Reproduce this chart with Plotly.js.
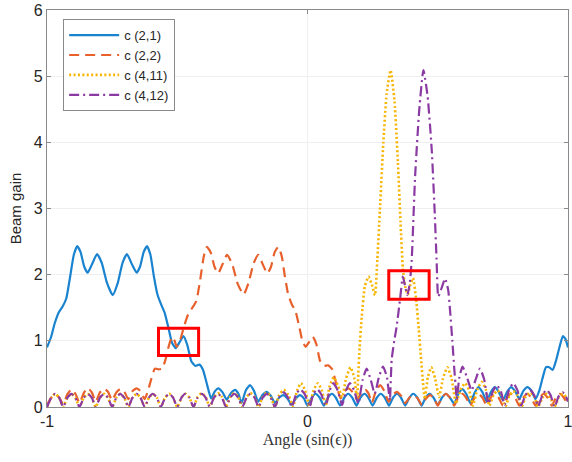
<!DOCTYPE html>
<html>
<head>
<meta charset="utf-8">
<script src="https://cdn.plot.ly/plotly-3.0.1.min.js"></script>
<style>html,body{margin:0;padding:0;background:#fff;}#chart{width:572px;height:462px;}</style>
</head>
<body>
<div id="chart"></div>
<script>
// ---- series names ----
const seriesNames = ['c (2,1)', 'c (2,2)', 'c (4,11)', 'c (4,12)'];

// ---- c(2,1) ----
const angle_c21 = [
 -1.000,-0.985,-0.970,-0.955,-0.940,-0.926,-0.912,-0.897,-0.884,-0.871,-0.857,-0.844,-0.828,-0.808,-0.790,-0.770,-0.748,-0.728,-0.710,-0.693,-0.673,-0.656,-0.643,-0.629,-0.616,-0.603,-0.590,-0.576,-0.562,-0.548,-0.534,-0.520,-0.506,-0.491,-0.476,-0.461,-0.446,-0.430,-0.415,-0.401,-0.387,-0.370,
 -0.355,-0.342,-0.326,-0.310,-0.294,-0.278,-0.265,-0.253,-0.237,-0.221,-0.205,-0.189,-0.173,-0.157,-0.141,-0.125,-0.109,-0.093,-0.077,-0.061,-0.045,-0.029,-0.014,
 0.000,0.016,0.031,0.047,0.063,0.078,0.094,0.109,0.125,0.141,0.156,0.172,0.188,0.203,0.219,0.234,0.250,0.266,0.281,0.297,0.313,0.328,0.344,0.359,0.375,0.391,0.406,0.422,0.438,0.453,0.469,0.484,
 0.500,0.516,0.531,0.547,0.563,0.578,0.594,0.609,0.625,0.641,0.656,0.672,0.688,0.703,0.719,0.734,0.750,0.766,0.781,0.797,0.813,0.828,0.844,0.859,0.875,
 0.890,0.902,0.915,0.928,0.941,0.954,0.967,0.980,0.990,1.000];
const gain_c21 = [
 0.90,1.05,1.27,1.43,1.52,1.64,1.95,2.30,2.43,2.34,2.12,2.03,2.15,2.31,2.18,1.88,1.69,1.88,2.18,2.31,2.15,2.03,2.12,2.34,2.43,2.30,1.98,1.70,1.55,1.42,1.20,0.97,0.89,0.98,1.07,0.93,0.69,0.62,0.64,0.56,0.36,0.13,
 0.24,0.28,0.22,0.11,0.21,0.26,0.20,0.06,0.25,0.33,0.24,0.08,0.18,0.23,0.17,0.06,0.14,0.18,0.13,0.03,0.13,0.18,0.13,
 0.02,0.14,0.20,0.14,0.02,0.14,0.20,0.14,0.02,0.14,0.20,0.14,0.02,0.14,0.20,0.14,0.02,0.14,0.20,0.14,0.02,0.14,0.20,0.14,0.02,0.14,0.20,0.14,0.02,0.14,0.20,0.14,
 0.03,0.14,0.20,0.14,0.05,0.19,0.27,0.20,0.06,0.21,0.30,0.22,0.08,0.22,0.30,0.23,0.10,0.23,0.30,0.24,0.12,0.24,0.30,0.25,0.12,
 0.25,0.43,0.60,0.60,0.56,0.70,0.90,1.07,1.03,0.90];

// ---- c(2,2) ----
const angle_c22 = [
 -1.000,-0.984,-0.969,-0.953,-0.938,-0.922,-0.906,-0.891,-0.875,-0.859,-0.844,-0.828,-0.813,-0.797,-0.781,-0.766,-0.750,-0.734,-0.719,-0.703,-0.688,-0.672,-0.656,-0.641,-0.625,
 -0.612,-0.600,-0.586,-0.572,-0.558,-0.545,-0.532,-0.520,-0.510,-0.502,-0.488,-0.474,-0.458,-0.442,-0.427,-0.412,-0.398,-0.386,-0.372,-0.357,-0.343,-0.327,-0.309,-0.290,-0.268,-0.245,-0.226,-0.207,-0.189,-0.171,-0.154,-0.140,-0.126,-0.112,-0.099,-0.087,-0.074,-0.060,-0.046,-0.032,-0.019,-0.007,0.006,0.020,0.034,0.048,0.063,0.079,0.095,0.110,0.127,
 0.142,0.158,0.174,0.190,0.206,0.222,0.235,0.247,0.263,0.279,0.295,0.311,0.327,0.343,0.359,0.375,0.391,0.407,0.423,0.439,0.455,0.471,0.486,
 0.500,0.516,0.531,0.547,0.563,0.578,0.594,0.609,0.625,0.641,0.656,0.672,0.688,0.703,0.719,0.734,0.750,0.766,0.781,0.797,0.813,0.828,0.844,0.859,0.875,0.891,0.906,0.922,0.938,0.953,0.969,0.984,1.000];
const gain_c22 = [
 0.03,0.14,0.20,0.14,0.05,0.19,0.27,0.20,0.06,0.21,0.29,0.22,0.08,0.22,0.28,0.23,0.10,0.22,0.27,0.23,0.12,0.24,0.28,0.24,0.12,
 0.25,0.42,0.58,0.57,0.58,0.72,0.93,1.06,1.00,0.91,1.02,1.22,1.40,1.50,1.60,1.92,2.28,2.42,2.34,2.12,2.02,2.15,2.30,2.17,1.86,1.70,1.88,2.17,2.30,2.15,2.02,2.12,2.34,2.42,2.28,1.98,1.70,1.55,1.45,1.22,0.99,0.91,0.98,1.06,0.95,0.70,0.62,0.63,0.57,0.35,0.13,
 0.24,0.28,0.22,0.11,0.21,0.26,0.20,0.06,0.25,0.33,0.24,0.08,0.18,0.23,0.17,0.06,0.14,0.18,0.13,0.03,0.13,0.18,0.13,
 0.02,0.14,0.20,0.14,0.02,0.14,0.20,0.14,0.02,0.14,0.20,0.14,0.02,0.14,0.20,0.14,0.02,0.14,0.20,0.14,0.02,0.14,0.20,0.14,0.02,0.14,0.20,0.14,0.02,0.14,0.20,0.14,0.03];

// ---- c(4,11) ----
const angle_c411 = [
 -1.000,-0.984,-0.969,-0.953,-0.938,-0.922,-0.906,-0.891,-0.875,-0.859,-0.844,-0.828,-0.813,-0.797,-0.781,-0.766,-0.750,-0.734,-0.719,-0.703,-0.688,-0.672,-0.656,-0.641,-0.625,-0.609,-0.594,-0.578,-0.563,-0.547,-0.531,-0.516,-0.500,-0.484,-0.469,-0.453,-0.438,-0.422,-0.406,-0.391,-0.375,-0.359,-0.344,-0.328,-0.313,-0.297,-0.281,-0.266,-0.250,-0.234,-0.219,-0.203,
 -0.188,-0.172,-0.156,-0.141,-0.125,-0.109,-0.091,-0.073,-0.055,-0.040,-0.025,-0.009,0.008,0.023,0.040,0.055,0.070,0.085,0.101,0.117,0.133,0.148,0.165,0.180,0.190,
 0.195,0.200,0.208,0.220,0.234,0.247,0.259,0.268,0.278,0.291,0.304,0.319,0.334,0.347,0.357,0.366,0.375,0.385,0.395,0.405,0.417,0.427,0.436,0.443,0.450,
 0.462,0.475,0.490,0.505,0.520,0.537,0.553,0.570,0.587,0.605,0.620,0.635,0.652,0.669,0.684,0.698,0.714,0.730,0.745,0.760,0.775,0.790,0.806,0.823,0.838,0.855,0.870,0.885,0.902,0.918,0.933,0.948,0.964,0.980,0.992,1.000];
const gain_c411 = [
 0.00,0.14,0.20,0.14,0.00,0.14,0.20,0.14,0.00,0.14,0.20,0.14,0.00,0.14,0.20,0.14,0.00,0.14,0.20,0.14,0.00,0.14,0.20,0.14,0.00,0.14,0.20,0.14,0.00,0.14,0.20,0.14,0.00,0.14,0.20,0.14,0.00,0.15,0.21,0.15,0.00,0.15,0.21,0.15,0.00,0.15,0.21,0.15,0.00,0.15,0.21,0.15,
 0.00,0.15,0.22,0.15,0.00,0.18,0.26,0.18,0.01,0.25,0.36,0.25,0.01,0.25,0.36,0.25,0.02,0.32,0.45,0.32,0.15,0.43,0.60,0.43,0.12,
 0.50,0.90,1.35,1.82,1.97,1.85,1.69,2.22,2.98,3.99,4.74,5.09,4.62,3.70,2.80,2.10,1.82,1.70,1.85,1.95,1.62,1.18,0.72,0.38,0.12,
 0.45,0.60,0.43,0.15,0.43,0.60,0.43,0.05,0.26,0.36,0.26,0.02,0.27,0.38,0.27,0.02,0.18,0.25,0.18,0.01,0.17,0.24,0.17,0.01,0.16,0.22,0.16,0.00,0.14,0.20,0.14,0.00,0.14,0.20,0.15,0.08];

// ---- c(4,12) ----
const angle_c412 = [
 -1.000,-0.984,-0.969,-0.953,-0.938,-0.922,-0.906,-0.891,-0.875,-0.859,-0.844,-0.828,-0.813,-0.797,-0.781,-0.766,-0.750,-0.734,-0.719,-0.703,-0.688,-0.672,-0.656,-0.641,-0.625,-0.609,-0.594,-0.578,-0.563,-0.547,-0.531,-0.516,-0.500,-0.484,-0.469,-0.453,-0.438,-0.422,-0.406,-0.391,-0.375,-0.359,-0.344,-0.328,-0.313,-0.297,-0.281,-0.266,-0.250,-0.234,-0.219,-0.203,-0.188,-0.172,-0.156,-0.141,
 -0.125,-0.109,-0.092,-0.076,-0.060,-0.044,-0.028,-0.010,0.008,0.022,0.037,0.053,0.070,0.085,0.099,0.116,0.133,0.148,0.163,0.179,0.195,0.211,0.227,0.243,0.258,0.274,0.290,0.305,0.316,
 0.323,0.333,0.342,0.355,0.366,0.375,0.383,0.392,0.400,0.413,0.429,0.445,0.461,0.477,0.489,0.496,0.502,0.515,0.528,0.540,0.547,0.556,0.563,0.568,0.573,
 0.583,0.595,0.612,0.630,0.646,0.662,0.678,0.695,0.711,0.726,0.742,0.757,0.773,0.790,0.806,0.820,0.837,0.854,0.870,0.885,0.902,0.918,0.933,0.948,0.964,0.980,0.992,1.000];
const gain_c412 = [
 0.00,0.14,0.20,0.14,0.00,0.14,0.20,0.14,0.00,0.14,0.20,0.14,0.00,0.14,0.20,0.14,0.00,0.14,0.20,0.14,0.00,0.14,0.20,0.14,0.00,0.14,0.20,0.14,0.00,0.14,0.20,0.14,0.00,0.14,0.20,0.14,0.00,0.14,0.20,0.14,0.00,0.14,0.20,0.14,0.00,0.14,0.20,0.14,0.00,0.14,0.20,0.14,0.00,0.14,0.20,0.14,
 0.00,0.15,0.22,0.15,0.00,0.19,0.27,0.19,0.00,0.19,0.27,0.19,0.02,0.25,0.36,0.25,0.03,0.25,0.36,0.25,0.05,0.40,0.58,0.41,0.20,0.45,0.61,0.45,0.10,
 0.71,1.00,1.21,1.62,1.97,1.82,1.69,1.85,2.22,3.48,4.49,5.09,4.70,3.88,2.88,2.17,1.67,1.80,1.94,1.77,1.47,1.00,0.60,0.35,0.12,
 0.45,0.61,0.45,0.25,0.42,0.58,0.42,0.05,0.23,0.33,0.24,0.03,0.25,0.36,0.25,0.02,0.18,0.26,0.18,0.01,0.18,0.26,0.18,0.00,0.16,0.22,0.16,0.08];

// ---- highlight boxes (data coords) ----
const boxX0 = [-0.572, 0.312];
const boxX1 = [-0.418, 0.467];
const boxY0 = [0.78, 1.63];
const boxY1 = [1.19, 2.06];

const xTicks = [-1, 0, 1];
const yTicks = [0, 1, 2, 3, 4, 5, 6];

const colors = ['#1a83d0', '#e8612c', '#f7b400', '#8b3aa3'];
const dashes = ['solid', '10px,6px', '2px,2.4px', '10px,4px,2px,4px'];
const widths = [2.2, 2.2, 2.6, 2.2];
const xs = [angle_c21, angle_c22, angle_c411, angle_c412];
const ys = [gain_c21, gain_c22, gain_c411, gain_c412];

const traces = xs.map((x, i) => ({
  x: x, y: ys[i], type: 'scatter', mode: 'lines', name: seriesNames[i],
  line: {color: colors[i], width: widths[i], dash: dashes[i], shape: 'spline', smoothing: 0.5}
}));

const shapes = boxX0.map((x0, i) => ({
  type: 'rect', xref: 'x', yref: 'y', x0: x0, x1: boxX1[i], y0: boxY0[i], y1: boxY1[i],
  line: {color: '#ff0000', width: 3}, fillcolor: 'rgba(0,0,0,0)'
}));

const axisCommon = {
  showline: true, linecolor: '#8a8a8a', linewidth: 1.2, mirror: 'ticks',
  ticks: 'inside', ticklen: 4, tickcolor: '#8a8a8a', tickwidth: 1,
  showgrid: true, gridcolor: '#efefef', gridwidth: 1, zeroline: false,
  tickfont: {family: 'Liberation Sans, Arial, sans-serif', size: 16, color: '#262626'},
  automargin: false, ticklabeloverflow: 'allow'
};

const layout = {
  width: 572, height: 462,
  margin: {l: 47, r: 4, t: 10, b: 55},
  paper_bgcolor: '#ffffff', plot_bgcolor: '#ffffff',
  showlegend: true,
  xaxis: Object.assign({}, axisCommon, {
    range: [-1, 1], tickvals: xTicks, ticktext: xTicks.map(String),
    title: {text: 'Angle (sin(ϵ))', standoff: 4,
      font: {family: 'Liberation Serif, DejaVu Serif, serif', size: 16, color: '#333333'}}
  }),
  yaxis: Object.assign({}, axisCommon, {
    range: [0, 6], tickvals: yTicks, ticktext: yTicks.map(String),
    title: {text: 'Beam gain', standoff: 8,
      font: {family: 'Liberation Sans, Arial, sans-serif', size: 15, color: '#262626'}}
  }),
  legend: {
    x: 0.031, y: 0.977, xanchor: 'left', yanchor: 'top',
    bgcolor: '#ffffff', bordercolor: '#8a8a8a', borderwidth: 1,
    font: {family: 'Liberation Sans, Arial, sans-serif', size: 13, color: '#262626'},
    tracegroupgap: 0, itemwidth: 50
  },
  shapes: shapes
};

Plotly.newPlot('chart', traces, layout, {displayModeBar: false, staticPlot: true});
</script>
</body>
</html>
